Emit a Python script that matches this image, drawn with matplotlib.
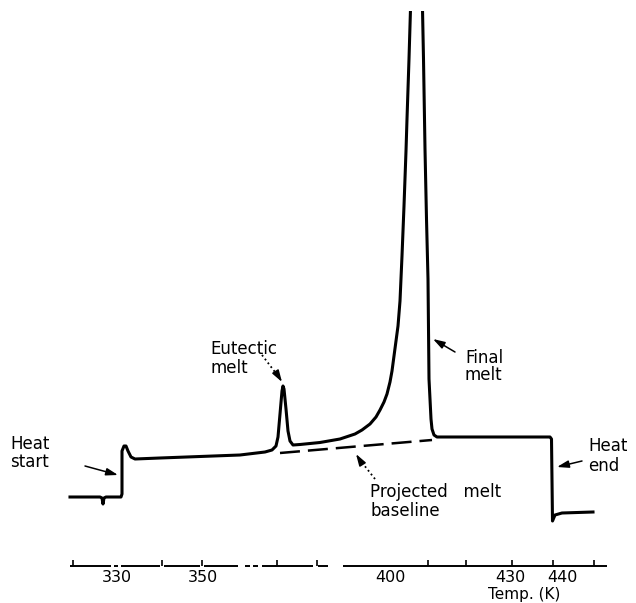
import matplotlib
matplotlib.use("Agg")
import matplotlib.pyplot as plt

# DSC trace (x = position along chart, y = signal height above axis)
trace_x = [70, 100, 102, 103, 104, 106, 121, 122, 122, 124, 126, 128, 131, 135,
           160, 200, 240, 265, 272, 276, 278, 280, 282, 283, 284, 286, 288, 290,
           293, 300, 320, 340, 355, 362, 370, 376, 380, 384, 387, 390, 392, 394,
           396, 398, 400, 402, 404, 406, 407, 409, 410.5, 416, 422.5, 423.5, 425,
           426.5, 428, 429, 431, 432, 434, 437, 550, 551.5, 552.5, 555, 562, 593]
trace_y = [69, 69, 68, 62, 68, 69, 69, 72, 115, 120, 120, 115, 109, 107,
           108, 109.5, 111, 114, 116, 120, 129, 152, 175, 180, 177, 157, 135, 125,
           121, 121.5, 123.5, 127, 132, 136, 142, 149, 156, 164, 172, 184, 195, 210,
           225, 240, 265, 310, 360, 415, 447, 507, 557, 617, 557, 507, 417,
           347, 287, 187, 147, 137, 131, 129, 129, 127, 45, 51, 53, 54]

# projected melt baseline (dashed)
base_x = [280, 432]
base_y = [113, 126]

# temperature axis
tick_pos = [73, 117, 162, 202, 277, 317, 390, 428, 466, 512, 553, 594]
label_pos = [117, 203, 390, 510, 562]
label_txt = ['330', '350', '400', '430', '440']
axis_segs = [(70, 111), (114, 118), (121, 160), (164, 200), (204, 238),
             (245, 250), (253, 258), (262, 313), (318, 328), (343, 607)]

fig = plt.figure(figsize=(6.36, 6.03), dpi=100)
ax = fig.add_axes([0, 37 / 603, 1, 555 / 603])
ax.set_xlim(0, 636)
ax.set_ylim(0, 555)

ax.plot(trace_x, trace_y, color='black', lw=2.2, solid_joinstyle='round')
ax.plot(base_x, base_y, color='black', lw=1.8, dashes=(8, 3.2))

# broken axis line
for a, b in axis_segs:
    ax.plot([a, b], [0, 0], color='black', lw=1.4, clip_on=False,
            solid_capstyle='butt')

for s in ['left', 'right', 'top', 'bottom']:
    ax.spines[s].set_visible(False)
ax.set_yticks([])
ax.set_xticks(label_pos)
ax.set_xticklabels(label_txt)
ax.set_xticks(tick_pos, minor=True)
ax.tick_params(axis='x', which='major', length=0, pad=3, labelsize=11.5)
ax.tick_params(axis='x', which='minor', direction='in', length=4, width=1.2)
ax.set_xlabel('Temp. (K)', fontsize=11)
ax.xaxis.set_label_coords(524 / 636, -21 / 555)

# labels
fs = 12
labels = [
    ('Heat', 10, 117), ('start', 10, 99),
    ('Eutectic', 210, 212), ('melt', 210, 193),
    ('Final', 465, 203), ('melt', 465, 186),
    ('Projected   melt', 370, 69), ('baseline', 370, 50),
    ('Heat', 588, 115), ('end', 588, 95),
]
for txt, x, y in labels:
    ax.text(x, y, txt, fontsize=fs, ha='left', va='baseline')

ap = dict(arrowstyle='-|>,head_length=0.7,head_width=0.22', color='black',
          lw=1.1, shrinkA=0, shrinkB=0)
# solid arrows
ax.annotate('', xy=(118, 91), xytext=(85, 100), arrowprops=ap)
ax.annotate('', xy=(433, 227), xytext=(455, 214), arrowprops=ap)
ax.annotate('', xy=(557, 99), xytext=(582, 105), arrowprops=ap)
# dotted arrows
ax.plot([262, 278], [211, 190], ':', color='black', lw=1.3)
ax.annotate('', xy=(282, 184), xytext=(277, 192), arrowprops=ap)
ax.plot([375, 360], [87, 106], ':', color='black', lw=1.3)
ax.annotate('', xy=(356, 112), xytext=(361, 104), arrowprops=ap)

fig.savefig('out.png', dpi=100)
